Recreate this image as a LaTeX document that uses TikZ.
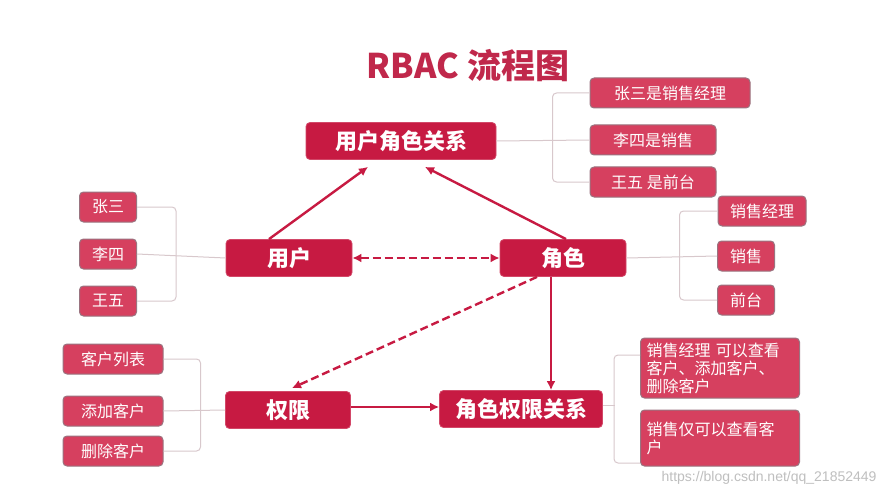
\documentclass[tikz,border=0pt]{standalone}
\usepackage{fontspec}
\newfontfamily\cjk{Noto Sans CJK SC}
\usetikzlibrary{arrows.meta}
\definecolor{rbacred}{HTML}{C71A42}
\definecolor{itemred}{HTML}{D6405F}
\definecolor{itemedge}{HTML}{9A7480}
\definecolor{titlered}{HTML}{C0284B}
\definecolor{bracketgray}{HTML}{D8C8CC}

\begin{document}
\begin{tikzpicture}[
  x=1pt,
  y=-1pt,
  line join=round,
  main/.style={fill=rbacred,draw=rbacred!80!white,line width=0.8pt,rounded corners=4pt,
    text=white,font=\cjk\bfseries\fontsize{22}{26}\selectfont,inner sep=0pt,minimum height=37},
  item/.style={fill=itemred,draw=itemedge,line width=1pt,rounded corners=4pt,
    text=white,font=\cjk\fontsize{16}{18}\selectfont,inner sep=0pt,minimum height=30},
  bracket/.style={draw=bracketgray,line width=1pt,rounded corners=4pt},
  link/.style={draw=rbacred,line width=2.4pt,-{Latex[length=9pt,width=9pt]}},
  dlink/.style={link,dash pattern=on 8pt off 4pt}
]
  \useasboundingbox[fill=white] (0,0) rectangle (885,497);

  % Title.
  \node[text=titlered,font=\cjk\bfseries\fontsize{34}{38}\selectfont] (title) at (468,66) {RBAC 流程图};

  % Main flow boxes.
  \node[main,minimum width=190] (urrel) at (401,141) {用户角色关系};
  \node[main,minimum width=126] (user) at (289,258) {用户};
  \node[main,minimum width=126] (role) at (563,258) {角色};
  \node[main,minimum width=125] (perm) at (288,410) {权限};
  \node[main,minimum width=163] (rprel) at (521,409) {角色权限关系};

  % User-role examples.
  \node[item,minimum width=160] (urA) at (670,93) {张三是销售经理};
  \node[item,minimum width=126] (urB) at (653,140) {李四是销售};
  \node[item,minimum width=126] (urC) at (653,182) {王五 是前台};

  % Users.
  \node[item,minimum width=57] (uA) at (108,207) {张三};
  \node[item,minimum width=57] (uB) at (108,254) {李四};
  \node[item,minimum width=57] (uC) at (108,301) {王五};

  % Roles.
  \node[item,minimum width=88] (rA) at (762,211) {销售经理};
  \node[item,minimum width=57] (rB) at (746,256) {销售};
  \node[item,minimum width=57] (rC) at (746,300) {前台};

  % Permissions.
  \node[item,minimum width=100] (pA) at (113,359) {客户列表};
  \node[item,minimum width=100] (pB) at (113,411) {添加客户};
  \node[item,minimum width=100] (pC) at (113,451) {删除客户};

  % Role-permission examples.
  \node[item,minimum width=159,minimum height=60,align=left,text width=147] (rpA) at (720,368)
    {销售经理 可以查看\\客户、添加客户、\\删除客户};
  \node[item,minimum width=159,minimum height=56,align=left,text width=147] (rpB) at (720,438)
    {销售仅可以查看客\\户};

  % Grouping brackets.
  \draw[bracket] (uA.east) -- ++(39,0) |- (uC.east);
  \draw[bracket] (uB.east) -- (user.west);
  \draw[bracket] (urA.west) -- ++(-37,0) |- (urC.west);
  \draw[bracket] (urrel.east) -- (urB.west);
  \draw[bracket] (rA.west) -- ++(-38,0) |- (rC.west);
  \draw[bracket] (role.east) -- (rB.west);
  \draw[bracket] (pA.east) -- ++(37,0) |- (pC.east);
  \draw[bracket] (pB.east) -- (perm.west);
  \draw[bracket] ([yshift=13pt]rpA.west) -- ++(-26,0) |- ([yshift=-25pt]rpB.west);
  \draw[bracket] ([yshift=4pt]rprel.east) -- ++(12,0);

  % Flow arrows.
  \draw[link] ([xshift=-20pt]user.north) -- ([xshift=-33pt,yshift=-7pt]urrel.south);
  \draw[link] ([xshift=3pt]role.north) -- ([xshift=24pt,yshift=-7pt]urrel.south);
  \draw[dlink,{Latex[length=9pt,width=9pt]}-{Latex[length=9pt,width=9pt]}] (user.east) -- (role.east -| role.west);
  \draw[dlink] ([xshift=-26pt]role.south) -- ([xshift=4pt,yshift=3pt]perm.north);
  \draw[link] ([xshift=-12pt]role.south) -- ([xshift=30pt]rprel.north);
  \draw[link] ([yshift=3pt]perm.east) -- ([yshift=2pt]rprel.west);

  % Source watermark.
  \node[text=black!25,font=\fontspec{Liberation Sans}\fontsize{14}{16}\selectfont,anchor=east] (mark) at (880,478) {https://blog.csdn.net/qq\_21852449};
\end{tikzpicture}
\end{document}
